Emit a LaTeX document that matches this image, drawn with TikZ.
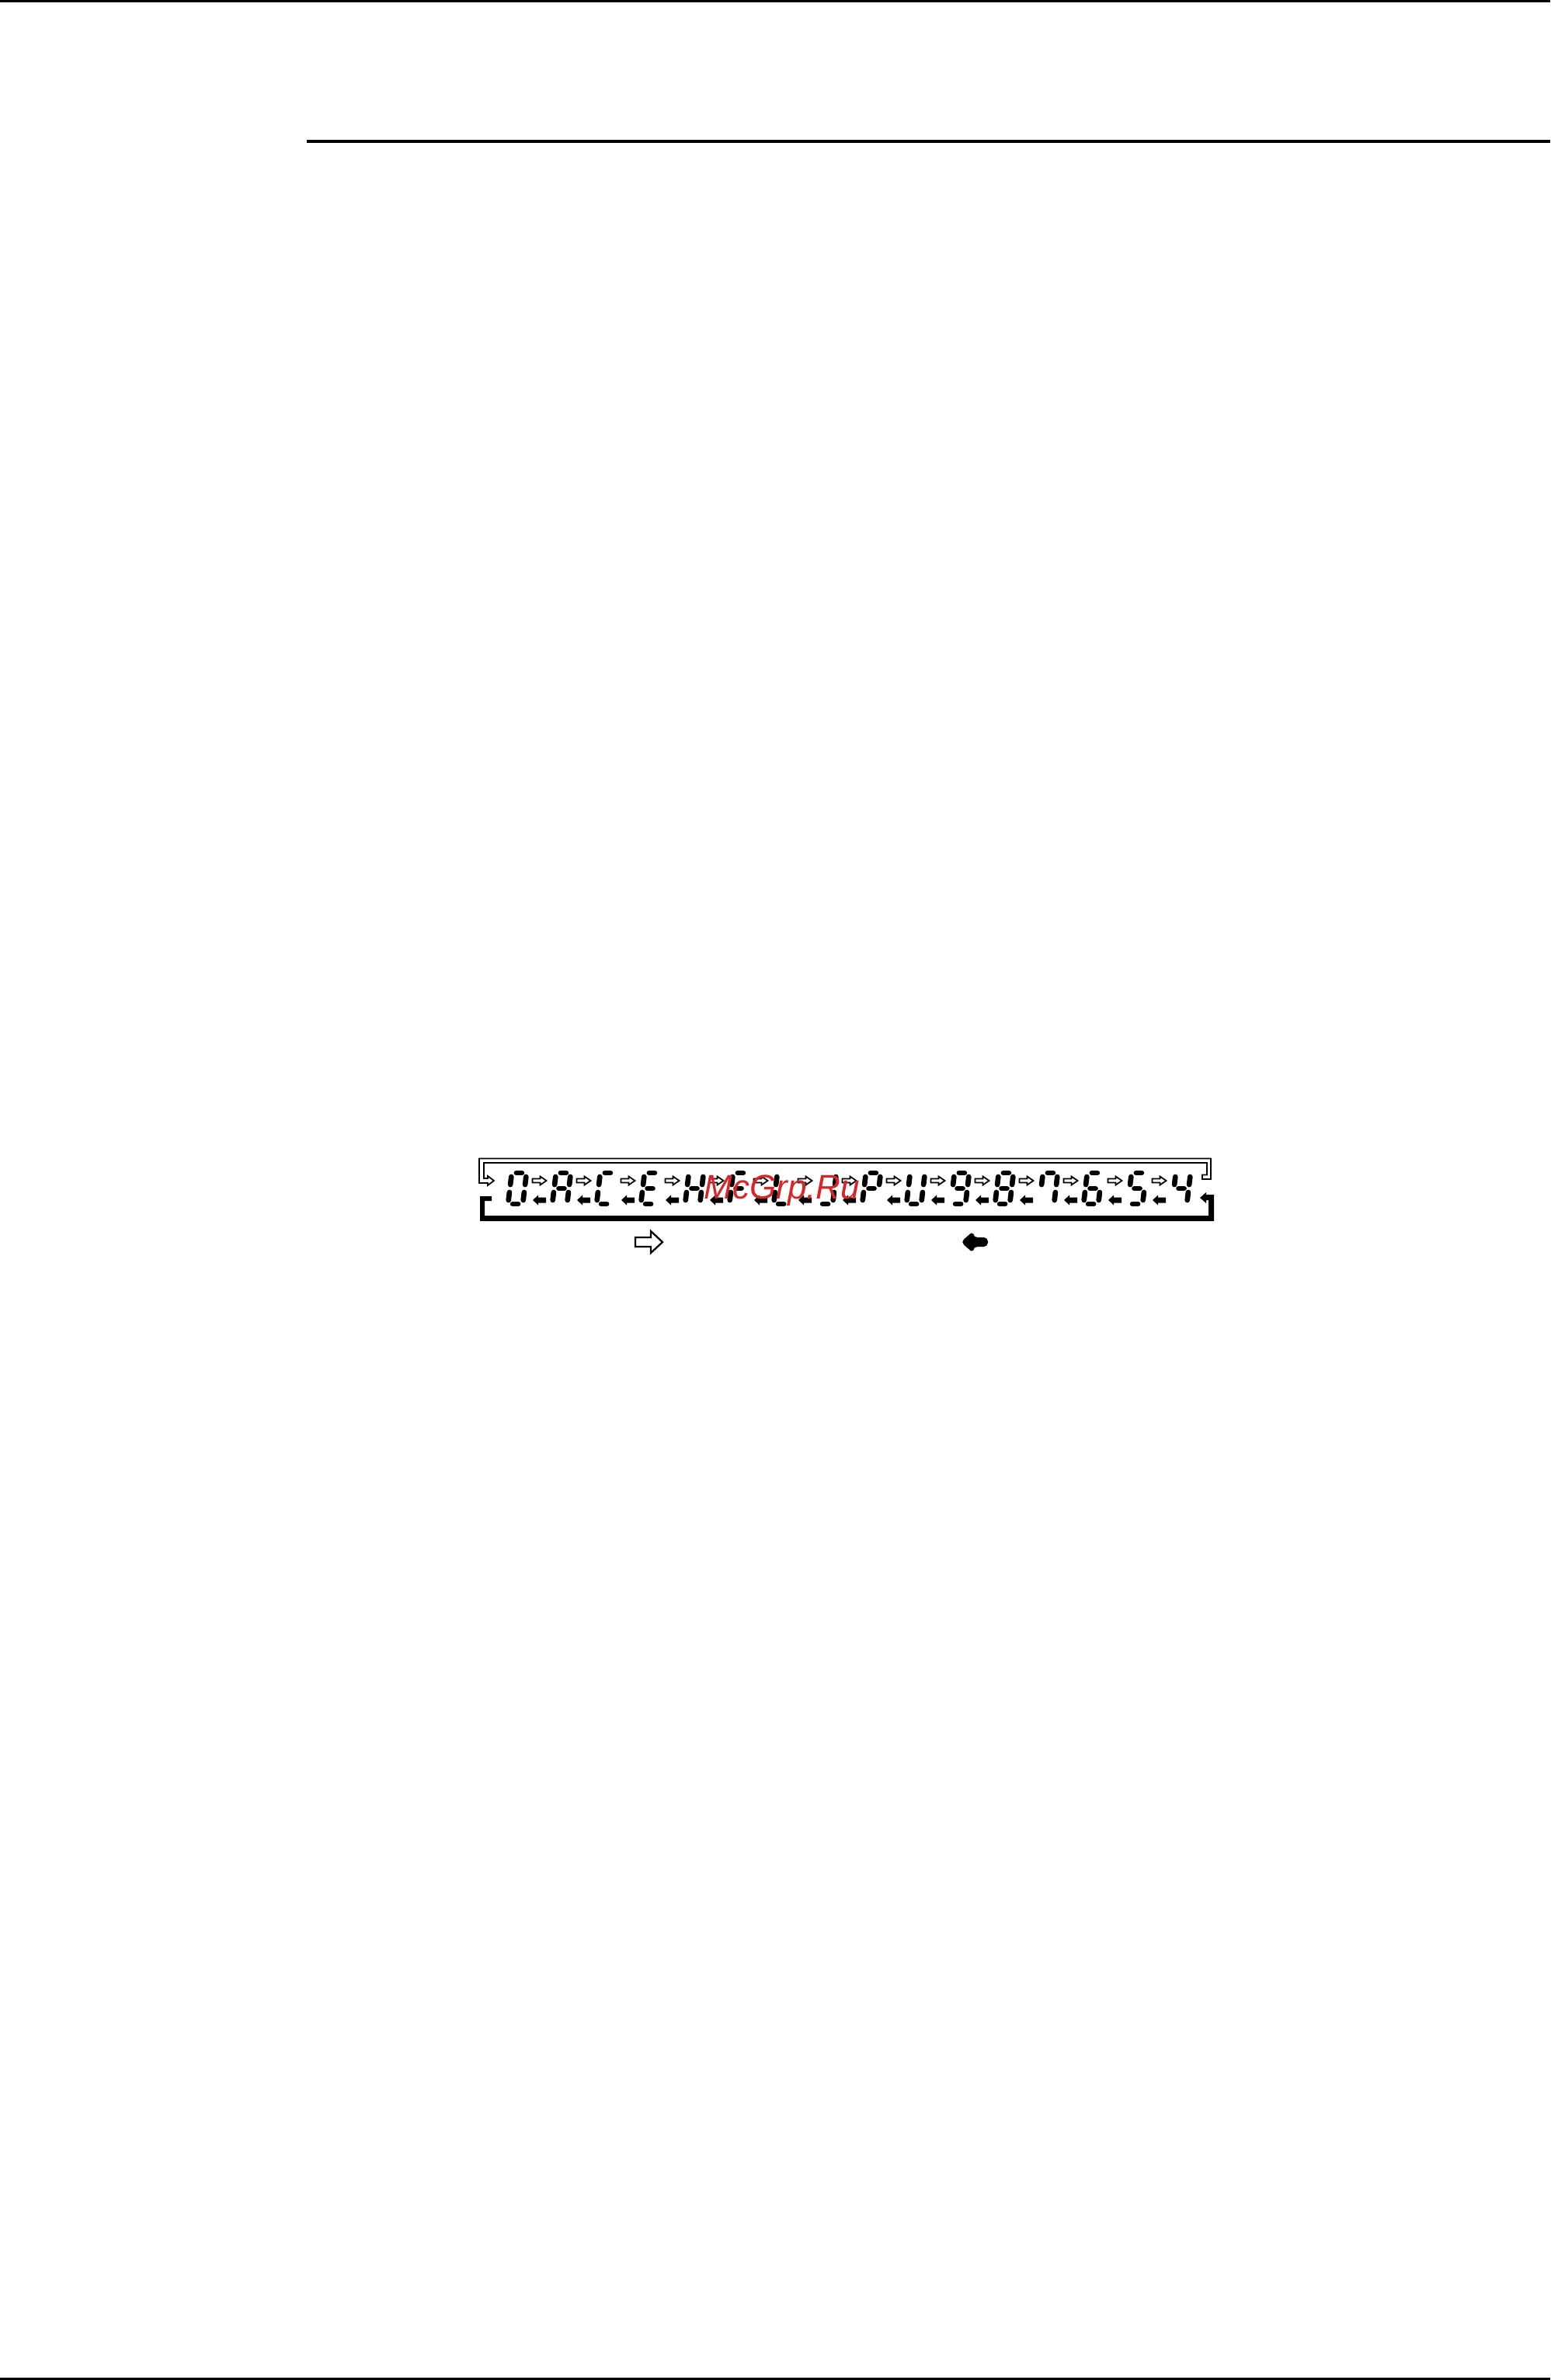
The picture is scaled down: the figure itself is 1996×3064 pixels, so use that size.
\documentclass[tikz,border=0pt]{standalone}
\usepackage{tikz}
\usetikzlibrary{calc}
\usepackage{fontspec}
\newfontfamily\wmfont{Liberation Sans}
\definecolor{wmred}{RGB}{214,38,42}

% the seven segments of one display character
\newcommand{\sga}{(-3.5,-20) -- (3.5,-20)}
\newcommand{\sgb}{(9.5,-15) -- (9.5,-5)}
\newcommand{\sgc}{(9.5,5) -- (9.5,15)}
\newcommand{\sgd}{(-3.5,20) -- (3.5,20)}
\newcommand{\sge}{(-9.5,5) -- (-9.5,15)}
\newcommand{\sgf}{(-9.5,-15) -- (-9.5,-5)}
\newcommand{\sgg}{(-3.5,0) -- (3.5,0)}

\newcommand{\segchar}[2]{%
  \begin{scope}[shift={(#1)},xslant=0.12]
    \foreach \s in {#2}{\edef\segtmp{\noexpand\draw[seg] \csname sg\s\endcsname;}\segtmp}
  \end{scope}}

\begin{document}
\begin{tikzpicture}[x=0.01cm,y=-0.01cm,
    seg/.style={line width=1.9pt,line cap=round},
    rule/.style={line width=0.9pt},
    hollow/.style={line width=0.5pt,line join=miter,fill=white},
    bighollow/.style={line width=0.65pt,line join=miter,fill=white}]
  \useasboundingbox (0,0) rectangle (1996,3064);
  \draw[rule] (0,1) -- (1996,1);
  \draw[rule] (395,182) -- (1996,182);
  \draw[rule] (0,3062.5) -- (1996,3062.5);

  % loop back to the first character
  \draw[hollow] (1548,1518) -- (1559,1518) -- (1559,1491.5) -- (617,1491.5) -- (617,1523)
    -- (628,1523) -- (628,1526) -- (636,1520) -- (628,1514) -- (628,1517) -- (623,1517)
    -- (623,1497) -- (1554,1497) -- (1554,1512.5) -- (1548,1512.5) -- cycle;
  % loop back to the last character
  \fill (633,1540) -- (618,1540) -- (618,1572) -- (1563,1572) -- (1563,1538) -- (1553,1538)
    -- (1553,1535) -- (1545,1542) -- (1553,1549) -- (1553,1545) -- (1556,1545)
    -- (1556,1565) -- (624,1565) -- (624,1546) -- (633,1546) -- cycle;

  \foreach \i in {0,...,15}
    \coordinate (D\i) at ({666+57*\i},1530);
  \foreach \i in {1,...,15} {
    \coordinate (T\i) at ({637.5+57*\i},1520);
    \coordinate (B\i) at ({637.5+57*\i},1545);
    \draw[hollow,shift={(T\i)}] (-9,-2.5) -- (1,-2.5) -- (1,-5.5) -- (9,0) -- (1,5.5) -- (1,2.5) -- (-9,2.5) -- cycle;
    \fill[shift={(B\i)}] (-8.5,0) -- (-1.5,-6.5) -- (-1.5,-3.5) -- (8.5,-3.5) -- (8.5,3.5) -- (-1.5,3.5) -- (-1.5,6.5) -- cycle;
  }

  \segchar{D0}{a,b,c,d,e,f}
  \segchar{D1}{a,b,c,e,f,g}
  \segchar{D2}{a,d,e,f}
  \segchar{D3}{a,d,e,f,g}
  \segchar{D4}{b,c,e,f,g}
  \segchar{D5}{a,e,f,g}
  \segchar{D6}{d,e,f}
  \segchar{D7}{b,c,d}
  \segchar{D8}{a,b,e,f,g}
  \segchar{D9}{b,c,d,e,f}
  \segchar{D10}{a,b,c,d,f,g}
  \segchar{D11}{a,b,c,d,e,f,g}
  \segchar{D12}{a,b,c,f}
  \segchar{D13}{a,c,d,e,f,g}
  \segchar{D14}{a,c,d,f,g}
  \segchar{D15}{b,c,f,g}

  % direction keys
  \coordinate (R) at (835.5,1599);
  \coordinate (L) at (1254.5,1599);
  \draw[bighollow,shift={(R)}] (-17.5,-6) -- (2.5,-6) -- (2.5,-14) -- (17.5,0) -- (2.5,14) -- (2.5,6) -- (-17.5,6) -- cycle;
  \fill[shift={(L)},rounded corners=1.5] (-17.5,0) -- (-1.5,-14) -- (-1.5,-6) -- (17.5,-6) -- (17.5,6) -- (-1.5,6) -- (-1.5,14) -- cycle;

  \node[anchor=base west,inner sep=0pt,text=wmred,font=\wmfont\itshape\fontsize{12.5}{13}\selectfont] (wm) at (906,1543) {McGrp.Ru};
\end{tikzpicture}
\end{document}
